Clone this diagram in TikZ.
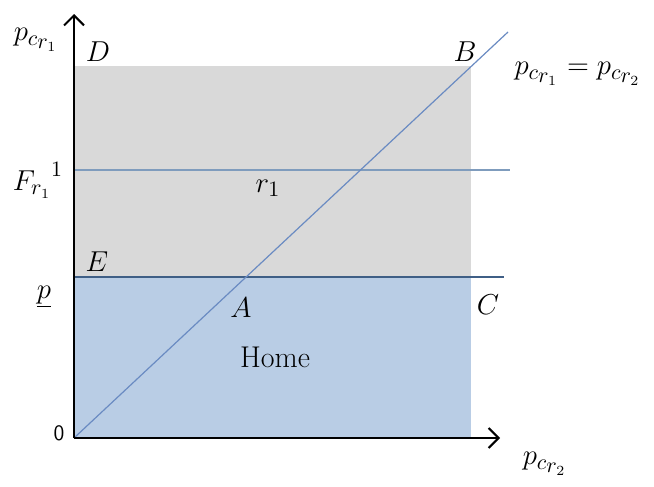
\documentclass[tikz,border=0pt]{standalone}
\usetikzlibrary{arrows.meta}
\definecolor{graybg}{HTML}{D9D9D9}
\definecolor{bluebg}{HTML}{B9CDE5}
\definecolor{fline}{HTML}{7F9CBD}
\definecolor{pline}{HTML}{3F5F86}
\definecolor{dline}{HTML}{6A8BC2}
\newcommand{\pcr}[1]{p_{c_{\scriptstyle r_{#1}}}}
\begin{document}
\begin{tikzpicture}[x=0.5pt,y=-0.5pt,
  axis/.style={line width=1pt,-{Straight Barb[length=5pt,width=10pt,line width=1pt]}},
  lbl/.style={inner sep=0pt,font=\fontsize{15}{18}\selectfont},
]
\useasboundingbox (0,0) rectangle (654,487);
% coordinates
\coordinate (O) at (74,438);
\coordinate (Ytop) at (74,14);
\coordinate (Xend) at (500,438);
\coordinate (Dc) at (74,66);
\coordinate (Bc) at (471,66);
\coordinate (Cc) at (471,277);
\coordinate (Ec) at (74,277);
\coordinate (Rc) at (471,438);
\coordinate (Fl) at (74,170);
\coordinate (Fr) at (510,170);
\coordinate (Pr) at (504,277);
\coordinate (Dend) at (508,32);
% regions
\fill[graybg] (Dc) rectangle (Cc);
\fill[bluebg] (Ec) rectangle (Rc);
% lines
\draw[fline,line width=1.2pt] (Fl) -- (Fr);
\draw[pline,line width=0.6pt] (Ec) -- (Pr);
\draw[dline,line width=0.6pt] (O) -- (Dend);
% axes
\draw[axis] (O) -- (Ytop);
\draw[axis] (O) -- (Xend);
% labels
\node[lbl] (ylab) at (36,40) {$\pcr{1}$};
\node[lbl] (xlab) at (545,464) {$\pcr{2}$};
\node[lbl] (eq) at (578,74) {$\pcr{1} = \pcr{2}$};
\node[lbl] (D) at (98,52) {$D$};
\node[lbl] (B) at (465,52) {$B$};
\node[lbl] (F) at (38,180) {$F_{r_1}{}^{\raisebox{2pt}{$\scriptstyle 1$}}$};
\node[lbl] (r1) at (268,188) {$r_1$};
\node[lbl] (E) at (97,262) {$E$};
\node[lbl] (p) at (44,297) {$\underline{p}$};
\node[lbl] (A) at (241,308) {$A$};
\node[lbl] (C) at (488,305) {$C$};
\node[lbl] (home) at (275,357) {Home};
\node[inner sep=0pt,font=\sffamily\fontsize{11}{13}\selectfont] (zero) at (59,433) {0};
\end{tikzpicture}
\end{document}
